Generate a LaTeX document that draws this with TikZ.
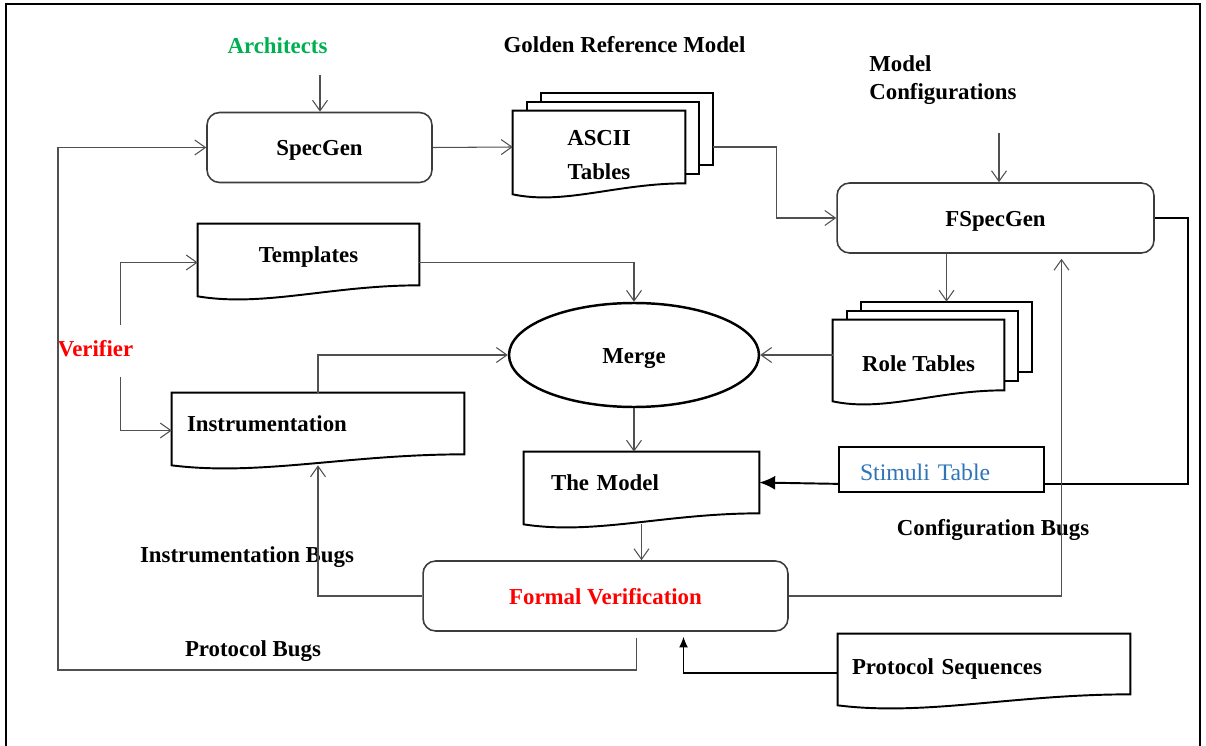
\documentclass[tikz,border=0pt]{standalone}
\usepackage{fontspec}
\setmainfont{Liberation Serif}
\usepackage{xcolor}
\usepackage{tikz}
\usetikzlibrary{arrows.meta,calc,shapes.geometric,backgrounds}
\definecolor{archgreen}{RGB}{0,176,80}
\definecolor{verired}{RGB}{255,0,0}
\definecolor{stimblue}{RGB}{46,117,182}
\definecolor{linegray}{RGB}{80,80,80}
\definecolor{boxgray}{RGB}{60,60,60}

\tikzset{
  conn/.style={draw=linegray, line width=0.6pt, -{Straight Barb[length=6pt,width=8.5pt]}},
  fatconn/.style={draw=black, line width=1.1pt, -{Latex[length=9pt,width=8pt]}},
  fatsmall/.style={draw=black, line width=0.6pt, -{Latex[length=6pt,width=5pt]}},
  roundbox/.style={draw=boxgray, line width=0.9pt, rounded corners=0.25cm, fill=white, inner sep=0pt, minimum height=1.4cm},
  docbox/.style={inner xsep=0pt, inner ysep=0pt, minimum height=1.22cm},
  docline/.style={draw=black, line width=1.1pt, fill=white},
  lbl/.style={inner sep=0pt}
}

% page outline with the wavy bottom edge
\newcommand{\docwave}[1]{%
  \draw[docline] (#1.north west) -- (#1.north east) -- (#1.south east)
    .. controls ($(#1.south west)!0.6!(#1.south east)$) and ($(#1.south west)!0.3!(#1.south east)+(0,22)$)
    .. ($(#1.south west)+(0,11)$) -- cycle;}
% two pages behind the front one
\newcommand{\docstack}[1]{%
  \draw[docline] ($(#1.north west)+(28,-18)$) rectangle ($(#1.south east)+(28,-18)$);
  \draw[docline] ($(#1.north west)+(14,-9)$) rectangle ($(#1.south east)+(14,-9)$);
  \docwave{#1}}

\begin{document}
\begin{tikzpicture}[x=0.02cm, y=-0.02cm,
    every node/.style={font=\fontsize{13}{15.6}\selectfont\bfseries, text height=9.6pt, text depth=0pt}]
  \useasboundingbox (0,0) rectangle (1206,746);
  % frame
  \draw[line width=1.2pt] (6,746) -- (6,4) -- (1200,4) -- (1200,746);

  % generators
  \node[roundbox, minimum width=4.5cm] (specgen) at (319.5,147.5) {SpecGen};
  \node[roundbox, minimum width=6.34cm] (fspec) at (995.5,218) {FSpecGen};
  \node[roundbox, minimum width=7.3cm, text=verired] (fv) at (605.5,596) {Formal Verification};
  \node[ellipse, draw=black, line width=1.4pt, minimum width=5cm, minimum height=2.08cm, inner sep=0pt] (merge) at (634,355) {Merge};

  % documents
  \node[docbox, minimum width=3.44cm, minimum height=1.44cm] (ascii) at (599,147)
    {\raisebox{-4.15pt}{\begin{tabular}{@{}c@{}}ASCII\\[3.7pt]Tables\end{tabular}}};
  \node[docbox, minimum width=3.42cm, minimum height=1.4cm] (role) at (918.5,355) {\raisebox{-4.6pt}{Role Tables}};
  \node[docbox, minimum width=4.42cm] (tmpl) at (308.5,254.5) {Templates};
  \node[docbox, inner xsep=0.3cm, text width=5.24cm, align=left] (instr) at (318,423.5) {Instrumentation};
  \node[docbox, inner xsep=0.54cm, text width=3.62cm, align=left] (model) at (641.5,482.5) {The Model};
  \node[docbox, inner xsep=0.28cm, text width=5.28cm, align=left, minimum height=1.2cm] (proto) at (984,664) {\raisebox{-1.2pt}{Protocol Sequences}};
  \node[draw=black, line width=1pt, fill=white, minimum height=0.9cm, inner xsep=0.42cm, inner ysep=0pt,
        text width=3.26cm, align=left, text=stimblue, font=\fontsize{13.5}{16}\selectfont] (stim) at (941.5,469.5) {\raisebox{-1.5pt}{Stimuli Table}};

  % labels
  \node[lbl, text=archgreen] (arch) at (277.5,45) {Architects};
  \node[lbl] (golden) at (624.5,44) {Golden Reference Model};
  \node[lbl, anchor=west] (mcfg) at (869,77) {\begin{tabular}{@{}l@{}}Model\\Configurations\end{tabular}};
  \node[lbl, text=verired] (verif) at (95.5,348) {Verifier};
  \node[lbl] (instrbugs) at (247,554) {Instrumentation Bugs};
  \node[lbl] (cfgbugs) at (993,527) {Configuration Bugs};
  \node[lbl] (protobugs) at (253,648) {Protocol Bugs};

  \begin{pgfonlayer}{background}
    \docstack{ascii}
    \docstack{role}
    \docwave{tmpl}
    \docwave{instr}
    \docwave{model}
    \docwave{proto}
  \end{pgfonlayer}

  % inputs from the top
  \coordinate (archin) at (320,75);
  \coordinate (cfgin) at (999,133);
  \draw[conn] (archin) -- (archin |- specgen.north);
  \draw[conn] (cfgin) -- (cfgin |- fspec.north);

  % spec flow
  \draw[conn] (specgen.east) -- (ascii.west);
  \draw[conn] ($(ascii.east)+(28,0)$) -- ++(63,0) |- (fspec.west);
  \coordinate (roletop) at ($(role.north)+(28,-18)$);
  \draw[conn] (roletop |- fspec.south) -- (roletop);
  \draw[conn] (role.west) -- (merge.east);
  \draw[conn] ($(tmpl.east)+(0,8)$) -| (merge.north);
  \draw[conn] (instr.north) |- (merge.west);
  \draw[conn] ($(verif.north)+(25,-14)$) |- ($(tmpl.west)+(0,8)$);
  \draw[conn] ($(verif.south)+(25,20)$) |- ($(instr.west)+(0,7)$);
  \draw[conn] (merge.south) -- (merge.south |- model.north);
  \draw[conn] ($(model.south)+(0,11)$) -- (model.south |- fv.north);

  % stimuli
  \draw[line width=1.1pt] (fspec.east) -- ++(33,0) |- ($(stim.south east)+(0,-9)$);
  \draw[fatconn] ($(stim.south west)+(0,-9)$) -- (model.east);

  % bug feedback
  \draw[conn] (fv.west) -| ($(instr.south)+(0,11)$);
  \draw[conn] (fv.east) -| ($(fspec.south)+(66,5)$);
  \coordinate (pbcorner) at (58,670);
  \draw[conn] ($(fv.south)+(31,6)$) |- (pbcorner) |- (specgen.west);
  \draw[fatsmall] ($(proto.west)+(0,9)$) -| ($(fv.south)+(78,5)$);
\end{tikzpicture}
\end{document}
